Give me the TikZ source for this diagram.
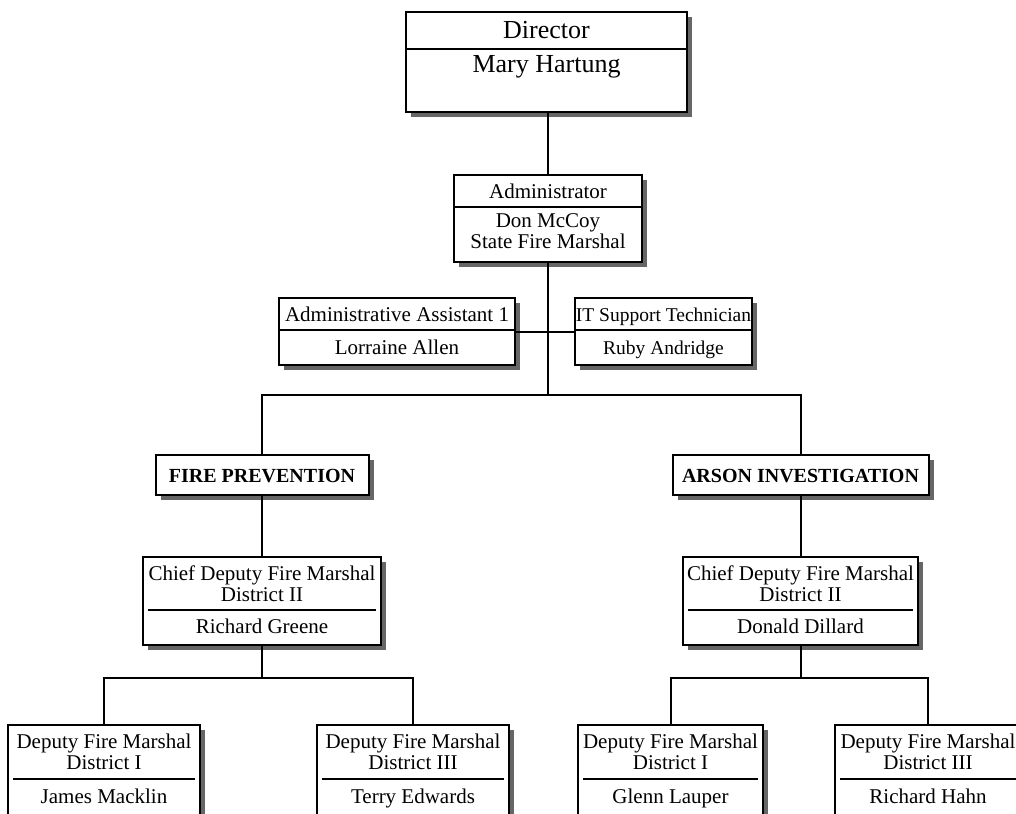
\documentclass[tikz,border=0pt]{standalone}
\usepackage{fontspec}
\setmainfont{Liberation Serif}
\usetikzlibrary{shadows}
\newcommand{\boxfont}{\fontsize{21}{21}\selectfont}
\newcommand{\smallboxfont}{\fontsize{19.5}{21}\selectfont}
\newcommand{\headfont}{\fontsize{20}{21}\selectfont\bfseries}
\newcommand{\topfont}{\fontsize{26}{27}\selectfont}

\begin{document}
\begin{tikzpicture}[
    x=1pt, y=-1pt,
    kasse/.style = {rectangle, draw, line width=2pt, fill=white, inner sep=0pt,
      drop shadow={shadow xshift=5pt, shadow yshift=-5pt, fill=black!60, opacity=1}},
    zeile/.style = {inner sep=0pt, text height=14pt, text depth=0pt},
    block/.style = {inner sep=0pt, align=center},
    trenn/.style = {line width=1.3pt},
    pil/.style = {black, line width=2pt},
    font=\boxfont
    ]
  \useasboundingbox (0,0) rectangle (1016,813);

  % boxes
  \node[kasse, minimum width=281, minimum height=100] (director) at (546.5,62.5) {};
  \node[kasse, minimum width=188, minimum height=87] (admin) at (548,218.5) {};
  \node[kasse, minimum width=236, minimum height=67] (assist) at (397,331.5) {};
  \node[kasse, minimum width=177, minimum height=67] (itsupport) at (663.5,331.5) {};

  \node[kasse, minimum width=213, minimum height=40] (fireprev) at (262,475) {};
  \node[kasse, minimum width=256, minimum height=40] (arson) at (800.5,475) {};

  \node[kasse, minimum width=238, minimum height=88] (chiefl) at (262,601) {};
  \node[kasse, minimum width=235, minimum height=88] (chiefr) at (800.5,601) {};

  \node[kasse, minimum width=192, minimum height=110] (macklin) at (104,780) {};
  \node[kasse, minimum width=192, minimum height=110] (edwards) at (413,780) {};
  \node[kasse, minimum width=185, minimum height=110] (lauper) at (670.5,780) {};
  \node[kasse, minimum width=186, minimum height=110] (hahn) at (928,780) {};

  % texts
  \node[zeile, font=\topfont, text height=17pt] (dirtitle) at (546.5,30) {Director};
  \node[zeile, font=\topfont, text height=17pt] (dirname) at (546.5,64) {Mary Hartung};

  \node[zeile] (admintitle) at (548,191) {Administrator};
  \node[block] (adminname) at (548,231.5) {Don McCoy\\State Fire Marshal};

  \node[zeile] (assisttitle) at (397,314) {Administrative Assistant 1};
  \node[zeile] (assistname) at (397,347) {Lorraine Allen};
  \node[zeile, font=\smallboxfont] (ittitle) at (663.5,314) {IT Support Technician};
  \node[zeile, font=\smallboxfont] (itname) at (663.5,347) {Ruby Andridge};

  \node[zeile, font=\headfont] (fptitle) at (262,475) {FIRE PREVENTION};
  \node[zeile, font=\headfont] (arsontitle) at (800.5,475) {ARSON INVESTIGATION};

  \node[block] (chiefltitle) at (262,583.5) {Chief Deputy Fire Marshal\\District II};
  \node[zeile] (chieflname) at (262,626) {Richard Greene};
  \node[block] (chiefrtitle) at (800.5,583.5) {Chief Deputy Fire Marshal\\District II};
  \node[zeile] (chiefrname) at (800.5,626) {Donald Dillard};

  \node[block] (mackintitle) at (104,751.5) {Deputy Fire Marshal\\District I};
  \node[zeile] (mackinname) at (104,796) {James Macklin};
  \node[block] (edwardstitle) at (413,751.5) {Deputy Fire Marshal\\District III};
  \node[zeile] (edwardsname) at (413,796) {Terry Edwards};
  \node[block] (laupertitle) at (670.5,751.5) {Deputy Fire Marshal\\District I};
  \node[zeile] (laupername) at (670.5,796) {Glenn Lauper};
  \node[block] (hahntitle) at (928,751.5) {Deputy Fire Marshal\\District III};
  \node[zeile] (hahnname) at (928,796) {Richard Hahn};

  % separators
  \draw[trenn] (director.west |- 0,49) -- (director.east |- 0,49);
  \draw[trenn] (admin.west |- 0,207) -- (admin.east |- 0,207);
  \draw[trenn] (assist.west |- 0,330) -- (assist.east |- 0,330);
  \draw[trenn] (itsupport.west |- 0,330) -- (itsupport.east |- 0,330);
  \draw[trenn] (148,610) -- (376,610);
  \draw[trenn] (688,610) -- (913,610);
  \draw[trenn] (13,779) -- (195,779);
  \draw[trenn] (322,779) -- (504,779);
  \draw[trenn] (583,779) -- (758,779);
  \draw[trenn] (840,779) -- (1016,779);

  % connectors
  \coordinate (split) at (548,395);
  \coordinate (lsplit) at (262,678);
  \coordinate (rsplit) at (800.5,678);

  \draw[pil]
  (director.south -| admin.north) -- (admin.north)
  (admin.south) -- (split)
  (assist.east) -- (itsupport.west)
  (split) -| (fireprev.north)
  (split) -| (arson.north)
  (fireprev.south) -- (chiefl.north)
  (arson.south) -- (chiefr.north)
  (chiefl.south) -- (lsplit)
  (chiefr.south) -- (rsplit)
  (lsplit) -| (macklin.north)
  (lsplit) -| (edwards.north)
  (rsplit) -| (lauper.north)
  (rsplit) -| (hahn.north) ;

\end{tikzpicture}
\end{document}
